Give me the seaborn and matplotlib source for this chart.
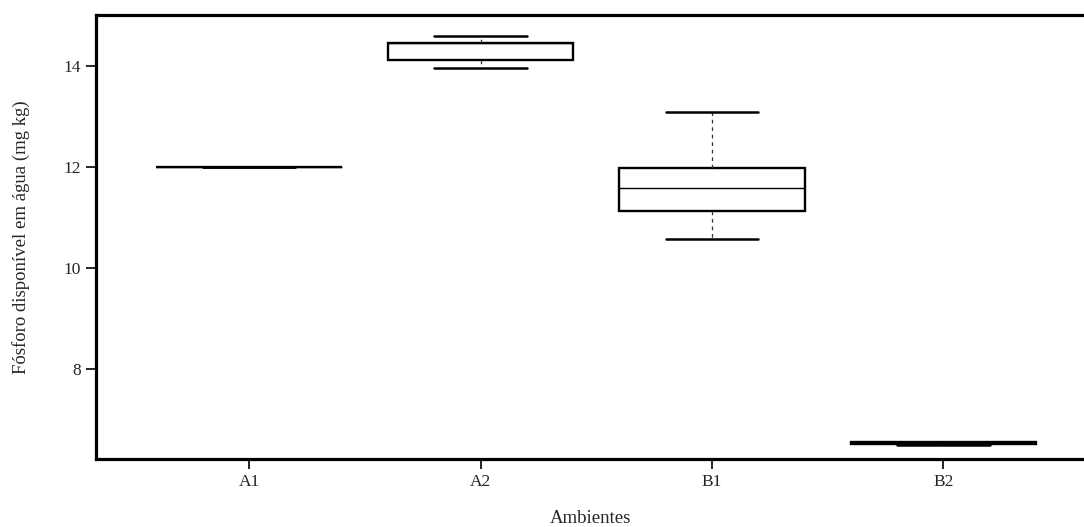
import numpy as np
import pandas as pd
import matplotlib
matplotlib.use("Agg")
import matplotlib.pyplot as plt
import seaborn as sns

# Phosphorus in water per environment: five-number summaries (min, q1, median, q3, max)
ambientes = ["A1", "A2", "B1", "B2"]
a1_vals = [12.00, 12.00, 12.00, 12.00, 12.00]
a2_vals = [13.96, 14.12, 14.45, 14.45, 14.59]
b1_vals = [10.57, 11.12, 11.58, 11.97, 13.09]
b2_vals = [6.50, 6.53, 6.55, 6.56, 6.56]
y_ticks = [8, 10, 12, 14]

df = pd.DataFrame({
    "Ambientes": np.repeat(ambientes, 5),
    "P": a1_vals + a2_vals + b1_vals + b2_vals,
})

sns.set_theme(style="white")
plt.rcParams["font.family"] = ["Liberation Serif", "DejaVu Serif"]

fig = plt.figure(figsize=(10.84, 5.27), dpi=100)
ax = fig.add_axes([96 / 1084, 68 / 527, 1 - 96 / 1084, 444 / 527])

sns.boxplot(
    data=df, x="Ambientes", y="P", order=ambientes, ax=ax,
    color="white", linecolor="black", linewidth=1.7, width=0.8,
    whis=(0, 100), fliersize=0,
    whiskerprops={"linestyle": (0, (3, 3)), "linewidth": 0.9, "color": "#333333"},
    medianprops={"linewidth": 1.0},
    capprops={"linewidth": 1.8},
)

ax.set_xlim(-0.661, 3.607)
ax.set_ylim(6.23, 15.0)
ax.set_yticks(y_ticks)
ax.set_yticklabels([str(t) for t in y_ticks])

for side in ["left", "bottom", "top"]:
    ax.spines[side].set_visible(True)
    ax.spines[side].set_linewidth(2.3)
    ax.spines[side].set_color("black")
ax.spines["right"].set_visible(False)

ax.tick_params(axis="both", which="both", direction="out", length=7, width=1.2,
               color="black", labelsize=12.5, bottom=True, left=True, pad=4)

ax.set_xlabel("Ambientes", fontsize=13.5, labelpad=14)
ax.set_ylabel("Fósforo disponível em água (mg kg)", fontsize=13.5, labelpad=24)

fig.savefig("out.png", dpi=100)
